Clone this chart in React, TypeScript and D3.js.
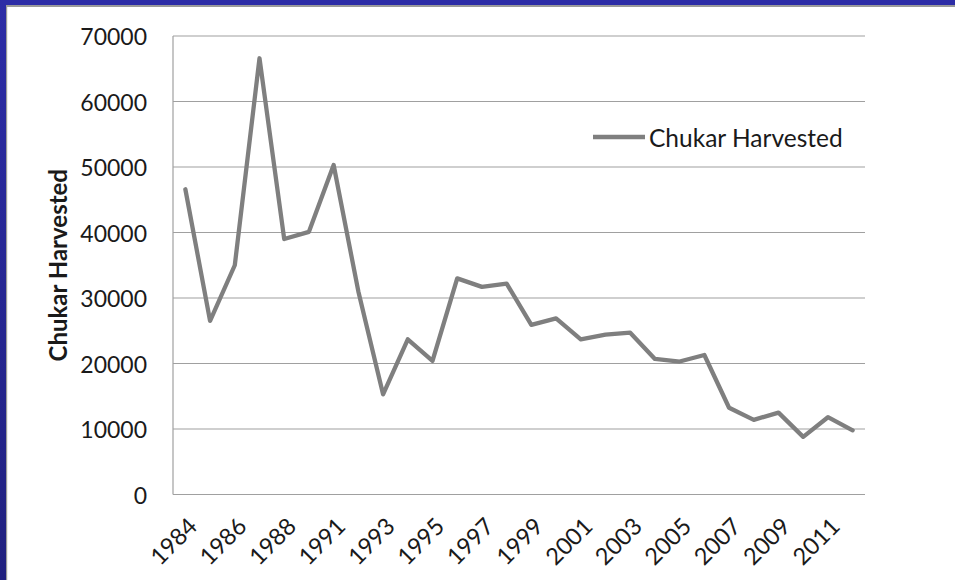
import React from "react";
import * as d3 from "d3";

const years = [
  "1984", "1985", "1986", "1987", "1988", "1989", "1991", "1992", "1993", "1994",
  "1995", "1996", "1997", "1998", "1999", "2000", "2001", "2002", "2003", "2004",
  "2005", "2006", "2007", "2008", "2009", "2010", "2011", "2012",
];
const harvested = [
  46600, 26500, 35000, 66600, 39000, 40100, 50300, 31000, 15300, 23700,
  20400, 33000, 31700, 32200, 25900, 26900, 23700, 24400, 24700, 20700,
  20300, 21300, 13250, 11400, 12500, 8800, 11800, 9800,
];
const yTicks = [0, 10000, 20000, 30000, 40000, 50000, 60000, 70000];
const seriesName = "Chukar Harvested";
const yTitle = "Chukar Harvested";

const W = 955;
const H = 580;
const plot = { left: 173, right: 865, top: 36, bottom: 494.5 };

export default function App() {
  const x = d3
    .scalePoint<string>()
    .domain(years)
    .range([plot.left, plot.right])
    .padding(0.5);
  const y = d3.scaleLinear().domain([0, 70000]).range([plot.bottom, plot.top]);
  const line = d3
    .line<number>()
    .x((_, i) => x(years[i]) as number)
    .y((d) => y(d));

  const font = "Lato, 'Open Sans', sans-serif";
  const textColor = "#1a1a1a";

  return (
    <div style={{ position: "fixed", left: 0, top: 0 }}>
      <svg width={W} height={H} style={{ display: "block" }}>
        <defs>
          <linearGradient id="leftBlue" x1="0" y1="0" x2="0" y2="1">
            <stop offset="0" stopColor="#2c2ca6" />
            <stop offset="1" stopColor="#20207f" />
          </linearGradient>
        </defs>
        <rect x={0} y={0} width={W} height={H} fill="#ffffff" />
        {/* frame */}
        <rect x={0} y={0} width={W} height={5} fill="#2c2ca6" />
        <rect x={0} y={5} width={W} height={2} fill="#9a9a9a" />
        <rect x={0} y={0} width={6} height={H} fill="url(#leftBlue)" />
        <rect x={6} y={6} width={1.2} height={H - 6} fill="#9a9a9a" />

        {/* gridlines */}
        {yTicks.map((t) => (
          <line
            key={t}
            x1={plot.left}
            x2={plot.right}
            y1={y(t)}
            y2={y(t)}
            stroke="#a0a0a0"
            strokeWidth={1.2}
          />
        ))}
        <line
          x1={plot.left}
          x2={plot.left}
          y1={plot.top}
          y2={plot.bottom}
          stroke="#a0a0a0"
          strokeWidth={1.2}
        />

        {/* y tick labels */}
        {yTicks.map((t) => (
          <text
            key={t}
            x={147}
            y={y(t)}
            textAnchor="end"
            dominantBaseline="central"
            fontFamily={font}
            fontSize={23}
            fill={textColor}
          >
            {t}
          </text>
        ))}

        {/* x tick labels */}
        {years.map((yr, i) =>
          i % 2 === 0 ? (
            <text
              key={yr}
              transform={`translate(${(x(yr) as number) + 7},${plot.bottom + 27}) rotate(-45)`}
              textAnchor="end"
              dominantBaseline="central"
              fontFamily={font}
              fontSize={23.5}
              fill={textColor}
            >
              {yr}
            </text>
          ) : null
        )}

        {/* y title */}
        <text
          transform={`translate(57,${(plot.top + plot.bottom) / 2}) rotate(-90)`}
          textAnchor="middle"
          dominantBaseline="central"
          fontFamily={font}
          fontWeight="bold"
          fontSize={24}
          fill={textColor}
        >
          {yTitle}
        </text>

        {/* series */}
        <path
          d={line(harvested) as string}
          fill="none"
          stroke="#7f7f7f"
          strokeWidth={4.3}
          strokeLinejoin="round"
          strokeLinecap="round"
        />

        {/* legend */}
        <line x1={593} x2={645} y1={137} y2={137} stroke="#7f7f7f" strokeWidth={4.3} />
        <text
          x={649}
          y={137}
          dominantBaseline="central"
          fontFamily={font}
          fontSize={24.5}
          fill={textColor}
        >
          {seriesName}
        </text>
      </svg>
    </div>
  );
}
